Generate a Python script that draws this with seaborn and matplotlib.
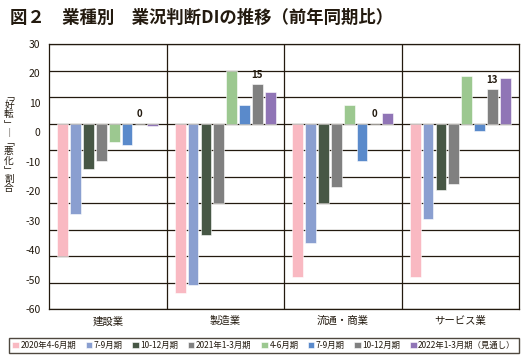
import matplotlib
matplotlib.use('Agg')
import matplotlib.pyplot as plt
import pandas as pd
import seaborn as sns

# Data (DI)
industries = ['建設業', '製造業', '流通・商業', 'サービス業']
periods = ['2020年4-6月期', '2020年7-9月期', '2020年10-12月期', '2021年1-3月期',
           '2021年4-6月期', '2021年7-9月期', '2021年10-12月期', '2022年1-3月期（見通し）']
legend_labels = ['2020年4-6月期', '7-9月期', '10-12月期', '2021年1-3月期',
                 '4-6月期', '7-9月期', '10-12月期', '2022年1-3月期（見通し）']
construction = [-50, -34, -17, -14, -7, -8, 0, -1]
manufacturing = [-64, -61, -42, -30, 20, 7, 15, 12]
distribution = [-58, -45, -30, -24, 7, -14, 0, 4]
services = [-58, -36, -25, -23, 18, -3, 13, 17]
labelled_period = '2021年10-12月期'
ytick_labels = [30, 20, 10, 0, -10, -20, -30, -40, -50, -60]

colors = ['#f9b9c2', '#8a9fd0', '#475745', '#808080',
          '#9cc890', '#5a8acb', '#808080', '#9075b6']
ink = '#231a0f'

rows = []
for ind, vals in zip(industries, [construction, manufacturing, distribution, services]):
    for p, v in zip(periods, vals):
        rows.append({'業種': ind, '期間': p, 'DI': v})
df = pd.DataFrame(rows)

sns.set_theme(style='white')
plt.rcParams['font.family'] = ['Noto Sans CJK JP', 'DejaVu Sans']
plt.rcParams['text.color'] = ink
plt.rcParams['axes.edgecolor'] = ink

fig = plt.figure(figsize=(5.27, 3.63), dpi=100)
ax = fig.add_axes([49 / 527, 1 - 309 / 363, 470 / 527, 265 / 363])

sns.barplot(data=df, x='業種', y='DI', hue='期間', order=industries, hue_order=periods,
            palette=colors, width=0.875, gap=0.17, errorbar=None, saturation=1,
            edgecolor='white', linewidth=0.4, ax=ax)

ax.set_xlim(-0.5, 3.5)
ax.set_ylim(-70, 30)
ax.set_yticks(range(-70, 31, 10))
ax.set_yticklabels([])
ax.tick_params(axis='y', length=0)
ax.set_xticks(range(len(industries)))
ax.set_xticklabels(industries, fontsize=7.5)
ax.tick_params(axis='x', length=0, pad=5, colors=ink)
ax.set_xticks([0.5, 1.5, 2.5], minor=True)
ax.tick_params(axis='x', which='minor', length=0)
ax.grid(axis='y', which='major', color=ink, linewidth=0.9)
ax.grid(axis='x', which='minor', color=ink, linewidth=0.9)
ax.set_axisbelow(True)
ax.set_xlabel('')
ax.set_ylabel('')
for s in ax.spines.values():
    s.set_color(ink)
    s.set_linewidth(0.9)

# value labels on the 2021 10-12 series
cont = ax.containers[periods.index(labelled_period)]
for bar, v in zip(cont, df[df['期間'] == labelled_period]['DI']):
    ax.annotate(f'{v:g}', (bar.get_x() + bar.get_width() / 2, max(v, 0)),
                xytext=(0, 3), textcoords='offset points', ha='center', va='bottom',
                fontsize=7, fontweight='bold', color=ink)

# tick labels as printed on the original
ax2 = ax.twinx()
ax2.set_ylim(-60, 30)
ax2.set_yticks(ytick_labels)
ax2.set_yticklabels([str(t) for t in ytick_labels], fontsize=7.5, color=ink)
ax2.yaxis.set_ticks_position('left')
ax2.yaxis.set_label_position('left')
ax2.tick_params(axis='y', length=0, pad=6)
for s in ax2.spines.values():
    s.set_visible(False)
ax2.grid(False)

handles, _ = ax.get_legend_handles_labels()
ax.get_legend().remove()
fig.legend(handles, legend_labels, loc='center', ncol=8, mode='expand',
           bbox_to_anchor=(9 / 527, 1 - 356 / 363, 510 / 527, 21 / 363),
           fontsize=6, frameon=True, fancybox=False, edgecolor=ink,
           handlelength=0.8, handleheight=0.8, handletextpad=0.2,
           columnspacing=0.6, borderpad=0.4, borderaxespad=0)
fig.legends[0].get_frame().set_linewidth(1.0)

fig.text(10 / 527, 1 - 18 / 363, '図２　業種別　業況判断DIの推移（前年同期比）',
         fontsize=12.5, fontweight='bold', ha='left', va='center', color=ink)

# vertical y-axis title, one character per line
ylab = '﹁好転﹂︱﹁悪化﹂割合'
fig.text(9 / 527, 1 - 142 / 363, '\n'.join(ylab), fontsize=7, ha='center',
         va='center', linespacing=0.9, color=ink)

fig.savefig('out.png', dpi=100, facecolor='white')
